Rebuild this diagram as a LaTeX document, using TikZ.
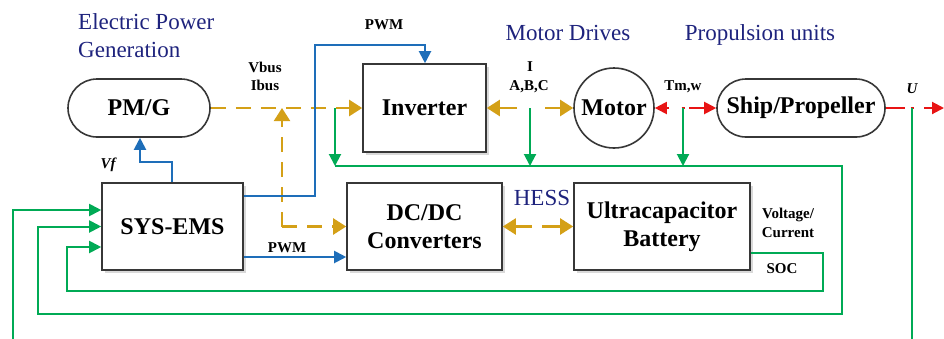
\documentclass[tikz,border=0pt]{standalone}
\usepackage{fontspec}
\setmainfont{Liberation Serif}
\usetikzlibrary{arrows.meta,shadows}
\definecolor{cOr}{RGB}{212,160,23}
\definecolor{cGr}{RGB}{0,170,85}
\definecolor{cBl}{RGB}{30,110,185}
\definecolor{cRd}{RGB}{232,20,20}
\definecolor{boxc}{RGB}{55,55,55}
\definecolor{navy}{RGB}{30,35,125}
\begin{document}
\begin{tikzpicture}[x=1pt,y=-1pt,
  plain/.style={draw=boxc, line width=1.6pt, fill=white, align=center, inner sep=0pt,
    font=\bfseries\fontsize{24}{28}\selectfont},
  boxs/.style={plain, drop shadow={shadow xshift=2.5pt, shadow yshift=-2.5pt, opacity=0.3}},
  rbox/.style={plain, rounded corners=29pt, minimum height=58pt},
  lab/.style={font=\bfseries\fontsize{15}{17}\selectfont, inner sep=0pt},
  ttl/.style={font=\fontsize{23}{27}\selectfont, text=navy, inner sep=0pt},
  oar/.style={draw=cOr, line width=2.2pt, -{Triangle[length=13pt,width=16pt]}},
  odash/.style={oar, dash pattern=on 15pt off 10pt},
  gar/.style={draw=cGr, line width=2pt, -{Triangle[length=12pt,width=12pt]}},
  bar/.style={draw=cBl, line width=2pt, -{Triangle[length=12pt,width=12pt]}},
  rar/.style={draw=cRd, line width=2pt, -{Triangle[length=12pt,width=12pt]}},
  rline/.style={draw=cRd, line width=2pt}]
\useasboundingbox (0,0) rectangle (944,338);

% nodes
\node[rbox, minimum width=142pt] (pmg) at (139,108) {PM/G};
\node[boxs, minimum width=123pt, minimum height=88pt] (inv) at (424.5,108) {Inverter};
\node[plain, circle, minimum size=80pt] (mot) at (614,108) {Motor};
\node[rbox, minimum width=168pt] (ship) at (801,108) {Ship/Propeller};
\node[boxs, minimum width=141pt, minimum height=87pt] (ems) at (172.5,226.5) {SYS-EMS};
\node[boxs, minimum width=155pt, minimum height=87pt] (dcdc) at (424.5,226.5) {DC/DC\\Converters};
\node[boxs, minimum width=176pt, minimum height=87pt] (ub) at (662,226.5) {Ultracapacitor\\Battery};

% titles
\node[ttl, anchor=base west] (t1) at (78,29) {Electric Power};
\node[ttl, anchor=base west] (t2) at (78,57) {Generation};
\node[ttl, anchor=base] (t3) at (568,40) {Motor Drives};
\node[ttl, anchor=base] (t4) at (760,40) {Propulsion units};
\node[ttl, anchor=base] (t5) at (542,205) {HESS};

% small labels
\node[lab, anchor=base] (l1) at (384,29) {PWM};
\node[lab, anchor=base] (l2) at (265,72) {Vbus};
\node[lab, anchor=base] (l3) at (265,90) {Ibus};
\node[lab, anchor=base] (l4) at (530,71) {I};
\node[lab, anchor=base] (l5) at (529,90) {A,B,C};
\node[lab, anchor=base] (l6) at (683,90) {Tm,w};
\node[lab, anchor=base] (l7) at (912,93) {\itshape U};
\node[lab, anchor=base] (l8) at (108,168) {\itshape Vf};
\node[lab, anchor=base] (l9) at (287,252) {PWM};
\node[lab, anchor=base] (l10) at (788,218) {Voltage/};
\node[lab, anchor=base] (l11) at (788,237) {Current};
\node[lab, anchor=base] (l12) at (782,273) {SOC};

% coordinates
\coordinate (jv) at (282,226.5);
\coordinate (gi) at (335,108);
\coordinate (gb) at (335,166);
\coordinate (b1) at (842,166);
\coordinate (b2) at (842,314);
\coordinate (b3) at (38,314);
\coordinate (abc) at (530,108);
\coordinate (tm) at (683,108);
\coordinate (abcL) at (517,108);
\coordinate (abcR) at (545,108);
\coordinate (tmL) at (669,108);
\coordinate (tmR) at (689,108);
\coordinate (tmA) at (681.5,108);
\coordinate (tmB) at (684.5,108);
\coordinate (uL) at (905,108);
\coordinate (uA) at (910.5,108);
\coordinate (uB) at (913.5,108);
\coordinate (u) at (912,108);
\coordinate (uR) at (924,108);
\coordinate (uE) at (944,108);
\coordinate (u1) at (912,340);
\coordinate (u2) at (13,340);
\coordinate (u3) at (13,210);
\coordinate (s1) at (823,253);
\coordinate (s2) at (823,291);
\coordinate (s3) at (67,291);
\coordinate (s4) at (67,247);
\coordinate (p1) at (315,196);
\coordinate (p2) at (315,45);
\coordinate (p3) at (425,45);
\coordinate (v1) at (172,162);
\coordinate (v2) at (140,162);
\coordinate (q) at (0,257);
\coordinate (hL) at (532,226.5);
\coordinate (hR) at (542,226.5);

% orange power flow
\draw[odash] (pmg.east) -- (inv.west);
\draw[odash] (jv) -- (jv |- pmg.east);
\draw[odash] (jv) -- (dcdc.west);
\draw[oar] (abcL) -- (inv.east);
\draw[oar] (abcR) -- (mot.west);
\draw[oar] (hL) -- (dcdc.east);
\draw[oar] (hR) -- (ub.west);

% red mechanical
\draw[rar] (tmL) -- (mot.east);
\draw[rar] (tmR) -- (ship.west);
\draw[rline] (tmA) -- (tmB);
\draw[rline] (ship.east) -- (uL);
\draw[rline] (uA) -- (uB);
\draw[rar] (uR) -- (uE);

% green feedback
\draw[gar] (gi) -- (gb);
\draw[gar] (abc) -- (abc |- gb);
\draw[gar] (tm) -- (tm |- gb);
\draw[gar] (gb) -- (b1) -- (b2) -- (b3) -- (b3 |- ems.west) -- (ems.west);
\draw[gar] (u) -- (u1) -- (u2) -- (u3) -- (u3 -| ems.west);
\draw[gar] (s1 -| ub.east) -- (s1) -- (s2) -- (s3) -- (s4) -- (s4 -| ems.west);

% blue control
\draw[bar] (p1 -| ems.east) -- (p1) -- (p2) -- (p3) -- (p3 |- inv.north);
\draw[bar] (v1 |- ems.north) -- (v1) -- (v2) -- (v2 |- pmg.south);
\draw[bar] (q -| ems.east) -- (q -| dcdc.west);
\end{tikzpicture}
\end{document}
